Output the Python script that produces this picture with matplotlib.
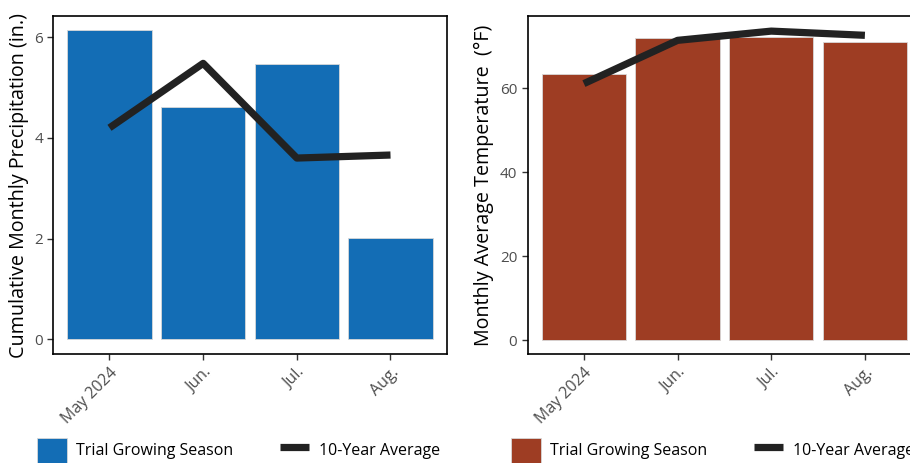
import matplotlib
matplotlib.use("Agg")
import matplotlib.pyplot as plt
from matplotlib.patches import Patch
from matplotlib.lines import Line2D

months = ["May 2024", "Jun.", "Jul.", "Aug."]
precip_trial = [6.14, 4.62, 5.46, 2.01]
precip_avg = [4.20, 5.48, 3.60, 3.66]
temp_trial = [63.3, 72.0, 72.1, 71.0]
temp_avg = [61.1, 71.4, 73.6, 72.6]

plt.rcParams['font.family'] = ['Open Sans', 'DejaVu Sans']

fig = plt.figure(figsize=(9.1, 4.63), dpi=100)
W, H = 910, 463

def axes_px(x0, x1, y0, y1):
    return fig.add_axes([x0 / W, 1 - y1 / H, (x1 - x0) / W, (y1 - y0) / H])

ax1 = axes_px(53.3, 446.7, 16, 354)
ax2 = axes_px(527.7, 921.1, 16, 354)

blue = "#136DB5"
red = "#9E3D23"
line_c = "#222222"

def draw(ax, trial, avg, color, ylabel, ylim, yticks, lsize):
    x = list(range(len(months)))
    ax.bar(x, trial, width=0.9, color=color, edgecolor="#d8d8d8", linewidth=0.6, zorder=2)
    ax.plot(x, avg, color=line_c, linewidth=5.2, solid_capstyle="butt", zorder=3)
    ax.set_xlim(-0.6, 3.6)
    ax.set_ylim(*ylim)
    ax.set_yticks(yticks)
    ax.set_xticks(x)
    ax.set_xticklabels(months, rotation=45, ha="right", rotation_mode="anchor")
    ax.tick_params(axis="x", labelsize=11.5)
    ax.tick_params(axis="y", labelsize=11)
    ax.tick_params(axis="both", colors="#333333", labelcolor="#4D4D4D",
                   length=4, width=1)
    for s in ax.spines.values():
        s.set_linewidth(1.2)
        s.set_color("black")
    ax.set_ylabel(ylabel, fontsize=lsize, color="black", labelpad=4)

draw(ax1, precip_trial, precip_avg, blue, "Cumulative Monthly Precipitation (in.)",
     (-0.29, 6.42), [0, 2, 4, 6], 14.2)
draw(ax2, temp_trial, temp_avg, red, "Monthly Average Temperature  (\u00b0F)",
     (-3.3, 77.2), [0, 20, 40, 60], 14.2)

for ax, color, xpos in [(ax1, blue, 37 / W), (ax2, red, 511 / W)]:
    handles = [Patch(facecolor=color, edgecolor="#d8d8d8", linewidth=0.6),
               Line2D([0], [0], color=line_c, linewidth=5.2, solid_capstyle="butt")]
    fig.legend(handles, ["Trial Growing Season", "10-Year Average"], loc="upper left",
               bbox_to_anchor=(xpos, 1 - 438 / H), ncol=2, frameon=False, fontsize=11.5,
               handlelength=1.85, handleheight=2.0, columnspacing=2.9, handletextpad=0.62,
               borderaxespad=0, borderpad=0)

fig.savefig("out.png", dpi=100)
